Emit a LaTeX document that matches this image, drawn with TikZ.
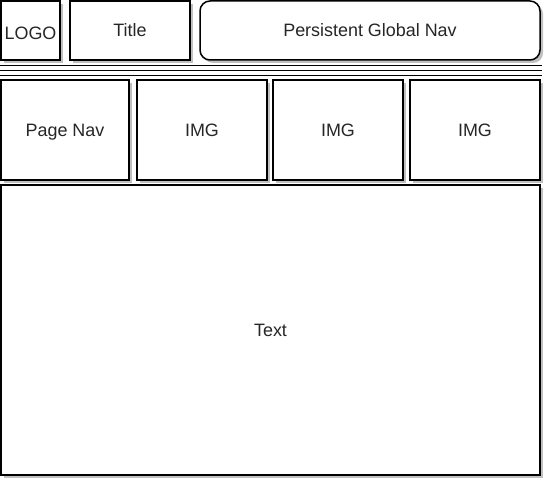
\documentclass[tikz,border=0pt]{standalone}
\usepackage{fontspec}
\setmainfont{Liberation Sans}
\usetikzlibrary{shadows}
\definecolor{shadowgray}{HTML}{C0C0C0}
\begin{document}
\begin{tikzpicture}[x=1bp,y=-1bp,
  box/.style={draw=black, line width=1.5bp, fill=white, inner sep=0pt,
    font=\fontsize{18}{21}\selectfont, text=black!85,
    text height=13bp, text depth=0bp,
    general shadow={fill=shadowgray, shadow xshift=3bp, shadow yshift=-3bp}},
  sepline/.style={draw=black, line width=1.5bp}]
\useasboundingbox (0,0) rectangle (544,480);
% top row
\node[box, minimum width=59bp, minimum height=59bp] (logo) at (30.5,30.5) {\raisebox{-2.5bp}{LOGO}};
\node[box, minimum width=120bp, minimum height=59bp] (title) at (130,30.5) {Title};
\node[box, rounded corners=10bp, minimum width=340bp, minimum height=59bp] (nav) at (370,30.5) {Persistent Global Nav};
% separator lines
\coordinate (l1a) at (0,65.5); \coordinate (l1b) at (542,65.5);
\coordinate (l2a) at (0,70.5); \coordinate (l2b) at (542,70.5);
\coordinate (l3a) at (0,75.5); \coordinate (l3b) at (542,75.5);
\draw[sepline] (l1a) -- (l1b);
\draw[sepline] (l2a) -- (l2b);
\draw[sepline] (l3a) -- (l3b);
% second row
\node[box, minimum width=128bp, minimum height=100bp] (pagenav) at (65,130) {Page Nav};
\node[box, minimum width=130bp, minimum height=100bp] (img1) at (202,130) {IMG};
\node[box, minimum width=130bp, minimum height=100bp] (img2) at (338,130) {IMG};
\node[box, minimum width=130bp, minimum height=100bp] (img3) at (475,130) {IMG};
% text area
\node[box, minimum width=539bp, minimum height=290bp] (text) at (270.5,330) {Text};
\end{tikzpicture}
\end{document}
